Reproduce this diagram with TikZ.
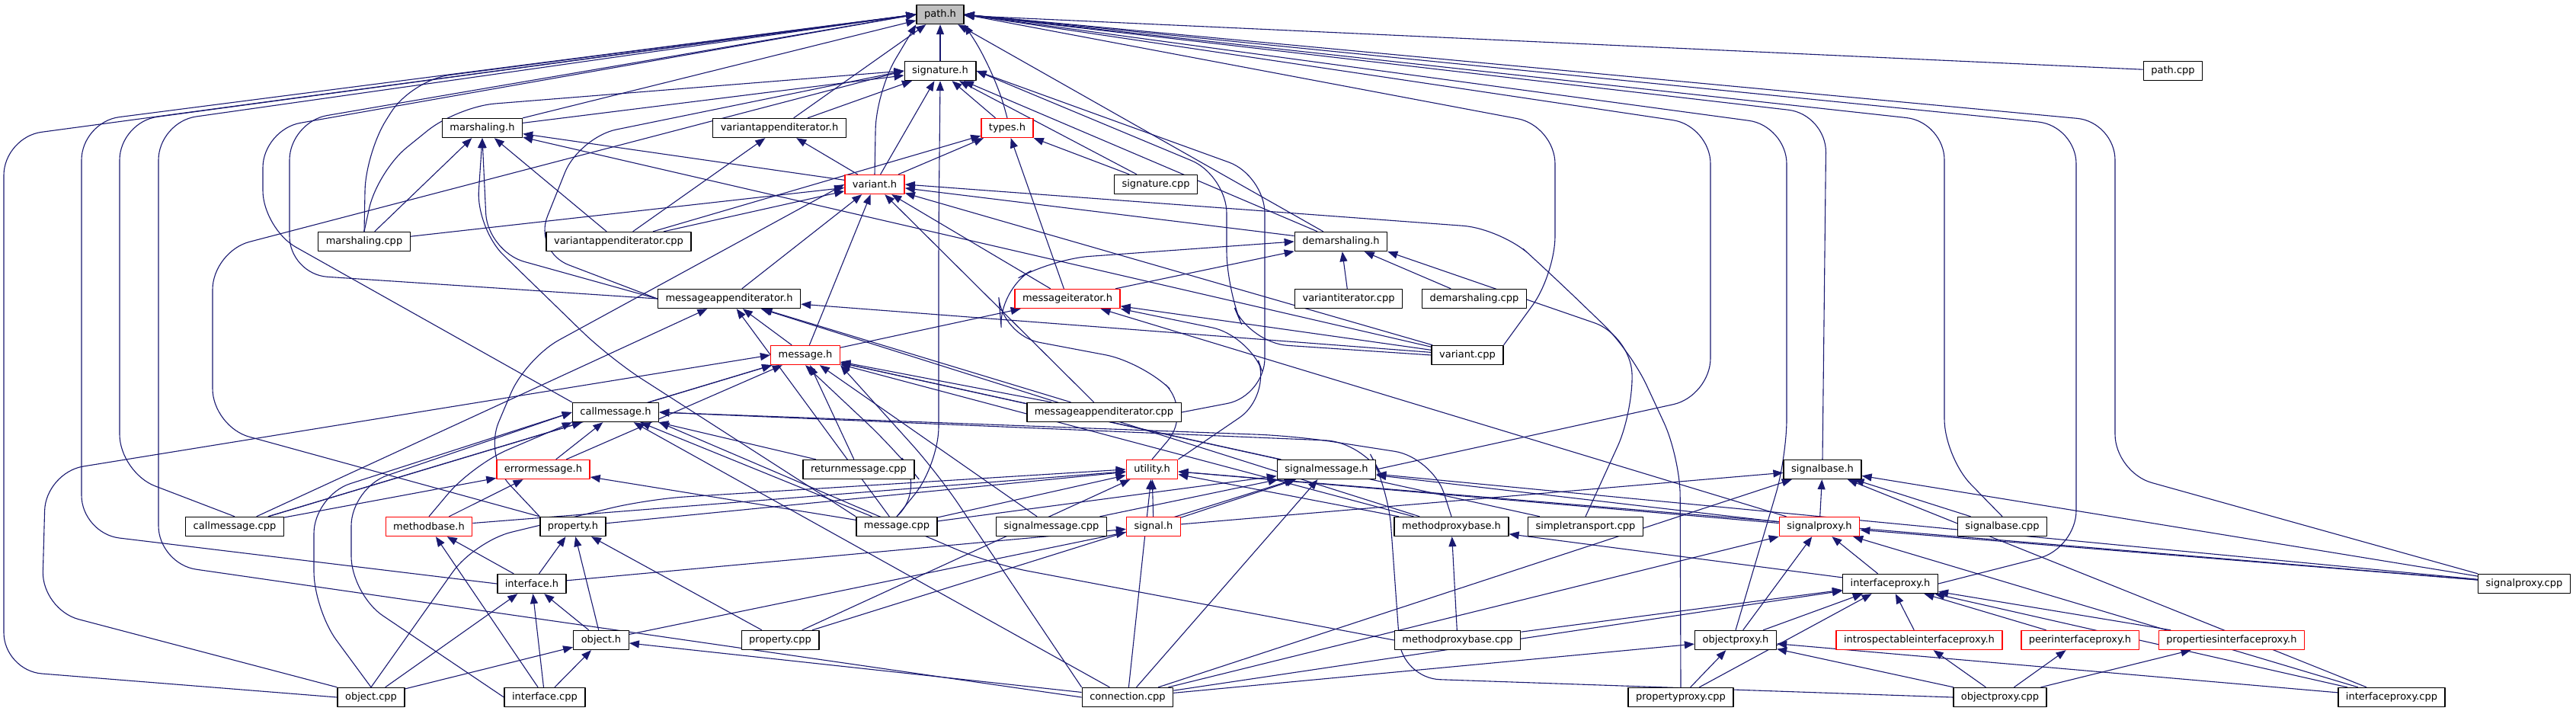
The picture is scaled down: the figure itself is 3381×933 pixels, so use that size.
\documentclass[tikz,border=0pt]{standalone}
\usepackage{fontspec}
\setmainfont{DejaVu Sans}
\usetikzlibrary{arrows.meta,backgrounds}
\definecolor{edgeblue}{HTML}{191970}
\definecolor{topgray}{HTML}{BFBFBF}
\begin{document}
\begin{tikzpicture}[x=1pt, y=-1pt, font=\fontsize{13}{15}\selectfont, line join=round,
  file/.style={draw=black, fill=white, line width=1.4pt, minimum height=25pt, inner xsep=10pt, inner ysep=0pt},
  redfile/.style={file, draw=red},
  edge/.style={draw=edgeblue, line width=1.1pt, -{Triangle[length=13pt,width=10pt]}},
  route/.style={edge, rounded corners=50pt}]
\useasboundingbox (0,0) rectangle (3381,933);
% header at the top
\node[file, fill=topgray] (path) at (1234,19) {path.h};
% files with black frames
\foreach \n/\x/\y/\t in {signature/1234/93/signature.h, pathcpp/2852/93/path.cpp,
    marshalingh/633/168/marshaling.h, vaih/1023/168/variantappenditerator.h,
    sigcpp/1517/242/signature.cpp, marshalingcpp/478/317/marshaling.cpp,
    vaicpp/812/317/variantappenditerator.cpp, demarh/1760/317/demarshaling.h,
    maih/957/392/messageappenditerator.h, vicpp/1770/392/variantiterator.cpp,
    demarcpp/1935/392/demarshaling.cpp, varcpp/1926/466/variant.cpp,
    callmsgh/808/541/callmessage.h, maicpp/1449/541/messageappenditerator.cpp,
    retmsg/1127/616/returnmessage.cpp, sigmsgh/1741/616/signalmessage.h,
    sigbaseh/2392/616/signalbase.h, callmsgcpp/308/691/callmessage.cpp,
    property/752/691/property.h, msgcpp/1177/691/message.cpp,
    sigmsgcpp/1380/691/signalmessage.cpp, mpbh/1905/691/methodproxybase.h,
    stcpp/2081/691/simpletransport.cpp, sigbasecpp/2628/691/signalbase.cpp,
    interfaceh/698/766/interface.h, ifproxyh/2481/766/interfaceproxy.h,
    sigproxycpp/3313/766/signalproxy.cpp, objecth/789/840/object.h,
    propcpp/1024/840/property.cpp, mpbcpp/1913/840/methodproxybase.cpp,
    objproxyh/2278/840/objectproxy.h, objectcpp/487/915/object.cpp,
    ifcpp/715/915/interface.cpp, conncpp/1480/915/connection.cpp,
    ppcpp/2206/915/propertyproxy.cpp, opcpp/2625/915/objectproxy.cpp,
    ifproxycpp/3139/915/interfaceproxy.cpp}
  \node[file] (\n) at (\x,\y) {\t};
% files with red frames
\foreach \n/\x/\y/\t in {types/1322/168/types.h, variant/1148/242/variant.h,
    msgiter/1401/392/messageiterator.h, message/1057/466/message.h,
    errmsg/713/616/errormessage.h, utility/1512/616/utility.h,
    methodbase/563/691/methodbase.h, signal/1514/691/signal.h,
    sigproxyh/2388/691/signalproxy.h, introh/2519/840/introspectableinterfaceproxy.h,
    peerh/2730/840/peerinterfaceproxy.h, propsifh/2929/840/propertiesinterfaceproxy.h}
  \node[redfile] (\n) at (\x,\y) {\t};
\begin{scope}[on background layer]
% includer/included
\foreach \a/\b in {signature/path, pathcpp/path, marshalingh/path, marshalingh/signature,
    vaih/path, vaih/signature, types/signature,
    variant/signature, variant/types, variant/vaih, variant/marshalingh,
    sigcpp/signature, sigcpp/types,
    marshalingcpp/marshalingh, marshalingcpp/variant,
    vaicpp/marshalingh, vaicpp/vaih, vaicpp/variant, vaicpp/types,
    demarh/path, demarh/signature, demarh/variant,
    maih/variant,
    msgiter/variant, msgiter/types, msgiter/demarh, vicpp/demarh, demarcpp/demarh,
    message/maih, message/msgiter, message/variant,
    varcpp/variant, varcpp/marshalingh, varcpp/msgiter, varcpp/maih,
    callmsgh/message, maicpp/maih, maicpp/message, maicpp/variant,
    errmsg/message, errmsg/callmsgh, retmsg/message, retmsg/callmsgh,
    sigmsgh/message,
    callmsgcpp/callmsgh, callmsgcpp/message, callmsgcpp/errmsg, callmsgcpp/maih,
    methodbase/errmsg, methodbase/utility,
    property/utility,
    msgcpp/maih, msgcpp/callmsgh,
    msgcpp/errmsg, msgcpp/utility, msgcpp/sigmsgh,
    sigmsgcpp/sigmsgh, sigmsgcpp/message, signal/utility, signal/sigmsgh, signal/sigbaseh,
    mpbh/maih, mpbh/utility, mpbh/message, stcpp/message,
    sigproxyh/sigbaseh, sigproxyh/utility, sigproxyh/sigmsgh, sigproxyh/msgiter,
    sigbasecpp/sigbaseh, interfaceh/methodbase, interfaceh/property, interfaceh/signal,
    ifproxyh/sigproxyh, ifproxyh/mpbh,
    sigproxycpp/sigproxyh, sigproxycpp/sigmsgh, sigproxycpp/utility, sigproxycpp/sigbaseh,
    objecth/property, objecth/interfaceh, objecth/signal,
    propcpp/property, propcpp/sigmsgh, propcpp/utility,
    mpbcpp/mpbh, mpbcpp/ifproxyh,
    objproxyh/sigproxyh, objproxyh/ifproxyh, introh/ifproxyh, peerh/ifproxyh, propsifh/ifproxyh,
    objectcpp/interfaceh, objectcpp/objecth,
    ifcpp/methodbase, ifcpp/interfaceh, ifcpp/objecth,
    conncpp/callmsgh, conncpp/utility, conncpp/sigmsgh, conncpp/sigbaseh,
    conncpp/sigproxyh, conncpp/objproxyh, conncpp/objecth, conncpp/ifproxyh,
    ppcpp/objproxyh, ppcpp/ifproxyh,
    opcpp/objproxyh, opcpp/introh, opcpp/peerh, opcpp/propsifh,
    ifproxycpp/ifproxyh, ifproxycpp/objproxyh, ifproxycpp/sigbaseh, ifproxycpp/sigproxyh}
  \draw[edge] (\a) -- (\b);
% bent ways past other files
\draw[route] (variant.north) -- (1150,120) -- (path.south west);
\draw[route] (types.north) -- (1305,93) -- (path.south east);
\draw[route] (marshalingcpp.north) -- (480,200) -- (540,105) -- (path.west);
\draw[route] (marshalingcpp.north) -- (495,225) -- (600,140) -- (signature.west);
\draw[route] (maih.west) -- (640,330) -- (marshalingh.south);
\draw[route] (maih.west) -- (700,330) -- (760,180) -- (signature.west);
\draw[route] (msgcpp.north west) -- (800,470) -- (625,300) -- (marshalingh.south);
\draw[route] (msgcpp.north) -- (1232,610) -- (1232,300) -- (signature.south);
\draw[route] (msgcpp.north) -- (1215,640) -- (1175,590) -- (message.south);
\draw[route] (methodbase.north) -- (620,610) -- (callmsgh.south west);
\draw[route] (conncpp.north west) -- (1230,620) -- (message.south east);
\draw[route] (objectcpp.north) -- (623,710) -- (850,655) -- (utility.west);
\draw[route] (utility.north east) -- (1668,520) -- (1640,440) -- (msgiter.south east);
\draw[route] (utility.north) -- (1565,540) -- (1500,475) -- (1315,440) -- (1310,380) -- (1380,340) -- (demarh.west);
\draw[route] (mpbh.north) -- (1880,600) -- (1700,572) -- (callmsgh.east);
\draw[route] (opcpp.west) -- (1840,890) -- (1822,640) -- (1790,580) -- (callmsgh.east);
\draw[route] (mpbcpp.west) -- (1300,740) -- (callmsgh.south east);
\draw[route] (stcpp.north) -- (2144,540) -- (2140,440) -- (demarh.south east);
\draw[route] (ppcpp.north) -- (2205,600) -- (2140,460) -- (2036,360) -- (1970,300) -- (variant.east);
\draw[route] (varcpp.west) -- (1640,450) -- (1610,380) -- (1610,230) -- (signature.east);
\draw[route] (maicpp.east) -- (1660,520) -- (1660,230) -- (signature.east);
% long ways round the sides
\draw[route] (objectcpp.west) -- (5,880) -- (5,180) -- (path.west);
\draw[route] (interfaceh.west) -- (107,700) -- (107,160) -- (path.west);
\draw[route] (callmsgcpp.north) -- (157,620) -- (157,160) -- (path.west);
\draw[route] (conncpp.west) -- (208,740) -- (208,160) -- (path.west);
\draw[route] (callmsgh.north west) -- (345,300) -- (345,170) -- (path.west);
\draw[route] (maih.west) -- (380,360) -- (380,160) -- (path.west);
\draw[route] (property.north west) -- (279,560) -- (279,330) -- (signature.west);
\draw[route] (property.north west) -- (635,600) -- (690,470) -- (variant.west);
\draw[route] (objectcpp.north west) -- (55,800) -- (60,620) -- (message.west);
\draw[route] (objectcpp.north) -- (412,800) -- (412,650) -- (callmsgh.west);
\draw[route] (ifcpp.west) -- (461,780) -- (461,640) -- (callmsgh.west);
\draw[route] (varcpp.north east) -- (2041,360) -- (2041,165) -- (path.east);
\draw[route] (sigmsgh.east) -- (2245,520) -- (2245,165) -- (path.east);
\draw[route] (objproxyh.north) -- (2345,600) -- (2345,165) -- (path.east);
\draw[route] (sigbaseh.north) -- (2397,150) -- (path.east);
\draw[route] (sigbasecpp.north) -- (2552,600) -- (2552,160) -- (path.east);
\draw[route] (ifproxyh.east) -- (2725,720) -- (2725,165) -- (path.east);
\draw[route] (sigproxycpp.north west) -- (2776,620) -- (2776,160) -- (path.east);
\end{scope}
\end{tikzpicture}
\end{document}
